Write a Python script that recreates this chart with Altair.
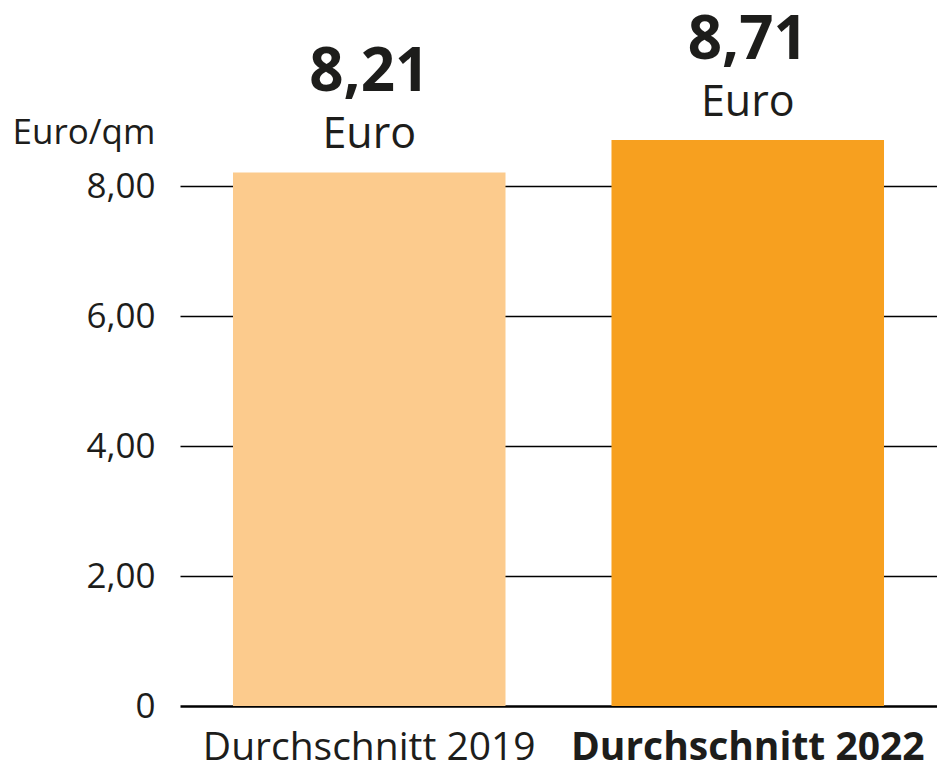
import altair as alt
import pandas as pd

categories = ["Durchschnitt 2019", "Durchschnitt 2022"]
values = [8.21, 8.71]
value_labels = ["8,21", "8,71"]
unit_labels = ["Euro", "Euro"]
bar_colors = ["#FCCB8D", "#F7A01F"]
y_ticks = [0, 2, 4, 6, 8]

df = pd.DataFrame({
    "kategorie": categories,
    "wert": values,
    "label": value_labels,
    "einheit": unit_labels,
})

FONT = "Open Sans"
TXT = "#1d1d1b"

x_enc = alt.X(
    "kategorie:N",
    sort=categories,
    scale=alt.Scale(paddingInner=0.28, paddingOuter=0.14),
    axis=alt.Axis(
        title=None,
        domain=False,
        ticks=False,
        labelAngle=0,
        labelFont=FONT,
        labelFontSize=39,
        labelColor=TXT,
        labelPadding=22,
        labelLimit=0,
        labelFontWeight={
            "condition": {"test": "datum.value === 'Durchschnitt 2022'", "value": "bold"},
            "value": "normal",
        },
    ),
)

y_scale = alt.Scale(domain=[0, 10.74], nice=False, zero=True)

bars = alt.Chart(df).mark_bar().encode(
    x=x_enc,
    y=alt.Y(
        "wert:Q",
        scale=y_scale,
        axis=alt.Axis(
            values=y_ticks,
            grid=True,
            gridColor="#000000",
            gridOpacity=1,
            gridWidth={
                "condition": {"test": "datum.value === 0", "value": 2.5},
                "value": 1.4,
            },
            domain=False,
            ticks=False,
            labelFont=FONT,
            labelFontSize=35,
            labelColor=TXT,
            labelPadding=25,
            labelBaseline="middle",
            labelExpr="datum.value == 0 ? '0' : replace(format(datum.value, '.2f'), '.', ',')",
            title="Euro/qm",
            titleAngle=0,
            titleAlign="left",
            titleBaseline="alphabetic",
            titleX=-168,
            titleY=135,
            titleFont=FONT,
            titleFontSize=35,
            titleFontWeight="normal",
            titleColor=TXT,
        ),
    ),
    color=alt.Color(
        "kategorie:N",
        scale=alt.Scale(domain=categories, range=bar_colors),
        legend=None,
    ),
)

unit_text = alt.Chart(df).mark_text(
    font=FONT, fontSize=43, color=TXT, baseline="alphabetic", align="center", dy=-24
).encode(
    x=alt.X("kategorie:N", sort=categories),
    y=alt.Y("wert:Q", scale=y_scale),
    text="einheit:N",
)

value_text = alt.Chart(df).mark_text(
    font=FONT, fontSize=60, fontWeight="bold", color=TXT, baseline="alphabetic", align="center", dy=-81
).encode(
    x=alt.X("kategorie:N", sort=categories),
    y=alt.Y("wert:Q", scale=y_scale),
    text="label:N",
)

chart = (
    alt.layer(bars, unit_text, value_text)
    .properties(
        width=757,
        height=698,
        autosize=alt.AutoSizeParams(type="none"),
        padding={"left": 172, "top": 0, "right": 0, "bottom": 62},
        background="white",
    )
    .configure_view(stroke=None)
)

chart.save("out.html", embed_options={"renderer": "svg", "actions": False})
